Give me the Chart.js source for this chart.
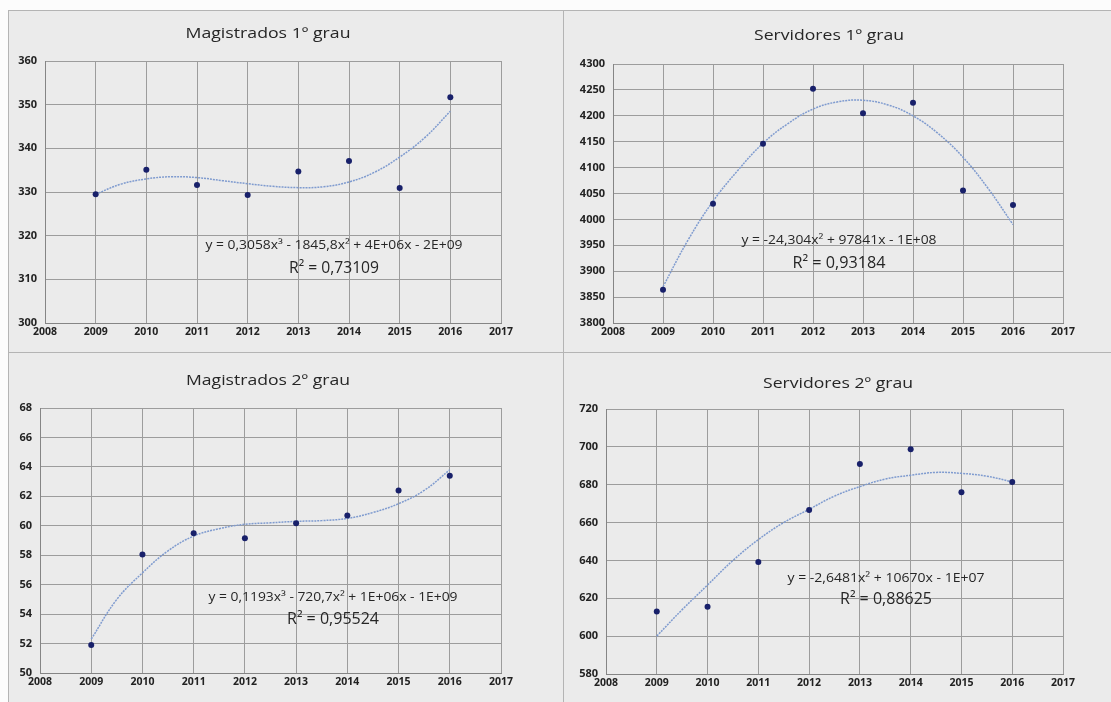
<!DOCTYPE html>
<html>
<head>
<meta charset="utf-8">
<script src="https://cdn.jsdelivr.net/npm/chart.js@4.4.1/dist/chart.umd.min.js"></script>
<style>
  html,body{margin:0;padding:0;background:#fcfcfc;width:1111px;height:702px;overflow:hidden;}
  .panel{position:absolute;background:#ebebeb;box-sizing:border-box;border:1px solid #b4b4b4;}
  canvas{display:block;}
</style>
</head>
<body>
<div class="panel" style="left:8px;top:10px;width:556px;height:343px;"><canvas id="c1" width="554" height="341"></canvas></div>
<div class="panel" style="left:563px;top:10px;width:549px;height:343px;"><canvas id="c2" width="547" height="341"></canvas></div>
<div class="panel" style="left:8px;top:352px;width:556px;height:351px;"><canvas id="c3" width="554" height="349"></canvas></div>
<div class="panel" style="left:563px;top:352px;width:549px;height:351px;"><canvas id="c4" width="547" height="349"></canvas></div>
<script>
// ---- data ----
const years = [2009, 2010, 2011, 2012, 2013, 2014, 2015, 2016];
const trendYears = [2009, 2009.5, 2010, 2010.5, 2011, 2011.5, 2012, 2012.5, 2013, 2013.5, 2014, 2014.5, 2015, 2015.5, 2016];

const magistrados1 = [329.5, 335.1, 331.6, 329.3, 334.7, 337.1, 330.9, 351.7];
const magistrados1Trend = [329.5, 331.8, 333.0, 333.5, 333.3, 332.6, 331.9, 331.3, 331.0, 331.2, 332.3, 334.5, 338.0, 342.5, 348.5];

const servidores1 = [3864, 4030, 4146, 4252, 4205, 4225, 4056, 4028];
const servidores1Trend = [3870, 3960, 4035, 4095, 4147, 4185, 4213, 4227, 4230, 4221, 4200, 4166, 4120, 4060, 3990];

const magistrados2 = [51.9, 58.05, 59.5, 59.15, 60.17, 60.7, 62.4, 63.4];
const magistrados2Trend = [52.3, 55.0, 56.8, 58.3, 59.3, 59.8, 60.1, 60.2, 60.3, 60.35, 60.5, 60.9, 61.5, 62.4, 63.8];

const servidores2 = [613, 615.5, 639.2, 666.6, 690.9, 698.8, 676, 681.5];
const servidores2Trend = [600, 614, 627, 640, 651, 660, 667, 674, 679, 683, 685, 686.5, 686, 684.5, 681.5];

const titles = ["Magistrados 1º grau", "Servidores 1º grau", "Magistrados 2º grau", "Servidores 2º grau"];
const equations = [
  "y = 0,3058x³ - 1845,8x² + 4E+06x - 2E+09",
  "y = -24,304x² + 97841x - 1E+08",
  "y = 0,1193x³ - 720,7x² + 1E+06x - 1E+09",
  "y = -2,6481x² + 10670x - 1E+07"
];
const r2Labels = ["R² = 0,73109", "R² = 0,93184", "R² = 0,95524", "R² = 0,88625"];
const yRanges = [[300, 360, 10], [3800, 4300, 50], [50, 68, 2], [580, 720, 20]];
const xRange = [2008, 2017, 1];

// ---- layout (panel-local pixels) ----
const layouts = [
  {plot:[36, 50, 492, 312], title:[259, 23, 165], eq:[325, 235, 257], r2:[325, 257, 90]},
  {plot:[49, 53, 499, 312], title:[265, 25, 150], eq:[275, 230, 195], r2:[275, 252, 93]},
  {plot:[31, 55, 492, 320], title:[259, 28, 164], eq:[324, 245, 249], r2:[324, 266, 92]},
  {plot:[42, 56, 499, 321], title:[274, 31, 150], eq:[322, 226, 197], r2:[322, 246, 92]}
];

const pointsSets = [magistrados1, servidores1, magistrados2, servidores2];
const trendSets = [magistrados1Trend, servidores1Trend, magistrados2Trend, servidores2Trend];

const FONT = "'Open Sans', 'Liberation Sans', sans-serif";
const X_H = 18;

function fitText(ctx, text, cx, cy, targetW) {
  const w = ctx.measureText(text).width;
  const sx = targetW / w;
  ctx.save();
  ctx.translate(cx, cy);
  ctx.scale(sx, 1);
  ctx.fillText(text, 0, 0);
  ctx.restore();
}

function makeChart(i) {
  const canvas = document.getElementById('c' + (i + 1));
  const W = canvas.width, H = canvas.height;
  const L = layouts[i];
  const [pl, pt, pr, pb] = L.plot;
  const Y_W = pl - 2;
  const textPlugin = {
    id: 'texts' + i,
    afterDraw(chart) {
      const ctx = chart.ctx;
      ctx.save();
      ctx.textAlign = 'center';
      ctx.textBaseline = 'middle';
      ctx.fillStyle = '#262626';
      ctx.font = "15px " + FONT;
      fitText(ctx, titles[i], L.title[0], L.title[1], L.title[2]);
      ctx.fillStyle = '#262626';
      ctx.font = "12px " + FONT;
      fitText(ctx, equations[i], L.eq[0], L.eq[1], L.eq[2]);
      ctx.font = "16px " + FONT;
      fitText(ctx, r2Labels[i], L.r2[0], L.r2[1], L.r2[2]);
      ctx.restore();
    }
  };
  const pts = years.map((y, k) => ({x: y, y: pointsSets[i][k]}));
  const tr = trendYears.map((y, k) => ({x: y, y: trendSets[i][k]}));
  return new Chart(canvas, {
    type: 'scatter',
    data: {
      datasets: [
        {
          type: 'line', data: tr, showLine: true, pointRadius: 0,
          borderColor: '#7f9bcf', borderWidth: 1.5, borderDash: [2, 1],
          tension: 0.4, fill: false, order: 2
        },
        {
          data: pts, pointRadius: 3, pointHoverRadius: 3,
          backgroundColor: '#18206a', borderColor: '#18206a', borderWidth: 0, order: 1
        }
      ]
    },
    options: {
      responsive: false, animation: false, devicePixelRatio: 1,
      layout: {padding: {left: pl - Y_W, top: pt, right: W - pr, bottom: H - pb - X_H}},
      plugins: {legend: {display: false}, tooltip: {enabled: false}, title: {display: false}},
      scales: {
        x: {
          type: 'linear', min: xRange[0], max: xRange[1],
          afterFit(s) { s.height = X_H; },
          ticks: {stepSize: xRange[2], padding: 3, color: '#222', font: {family: FONT, size: 10.5, weight: 'bold'},
                  callback: v => String(v)},
          grid: {color: '#9c9c9c', lineWidth: 1, drawTicks: false},
          border: {display: true, color: '#858585', width: 1}
        },
        y: {
          min: yRanges[i][0], max: yRanges[i][1],
          afterFit(s) { s.width = Y_W; },
          ticks: {stepSize: yRanges[i][2], padding: 8, color: '#222', font: {family: FONT, size: 11, weight: 'bold'},
                  callback: v => String(v)},
          grid: {color: '#9c9c9c', lineWidth: 1, drawTicks: false},
          border: {display: true, color: '#858585', width: 1}
        }
      }
    },
    plugins: [textPlugin]
  });
}
for (let i = 0; i < 4; i++) makeChart(i);
</script>
</body>
</html>
